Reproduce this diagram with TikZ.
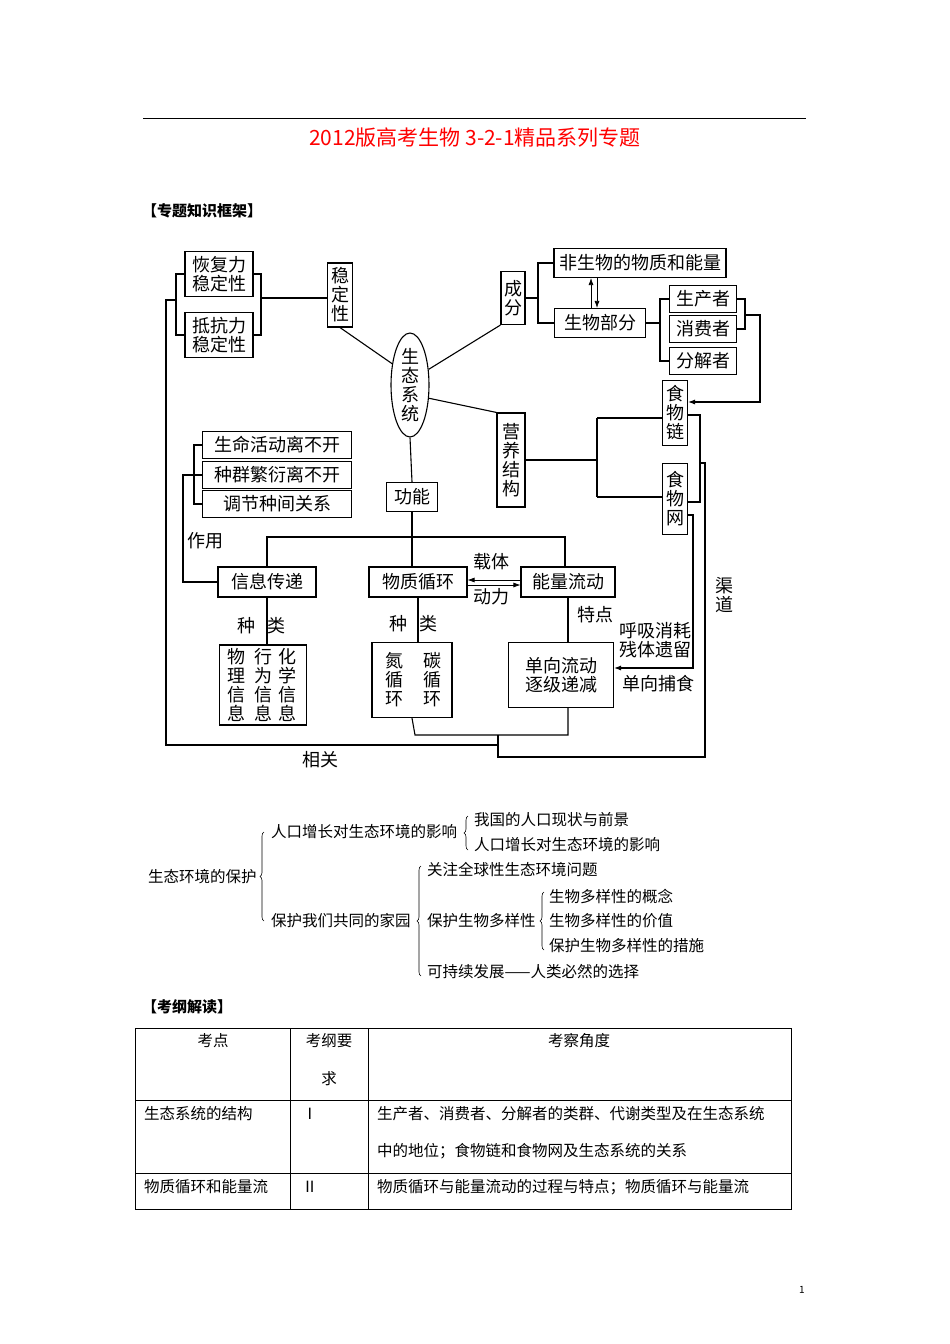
\documentclass[tikz,border=0pt]{standalone}
\usepackage{fontspec}
\setmainfont{Noto Sans CJK SC}
\usetikzlibrary{shapes.geometric,arrows.meta,decorations.pathreplacing}
\begin{document}
\begin{tikzpicture}[x=1pt,y=-1pt,
  box/.style={draw,line width=1.1pt,inner sep=0pt,align=center,font=\fontsize{18}{19}\selectfont},
  ln/.style={line width=1.1pt},
  lab/.style={inner sep=0pt,align=center,font=\fontsize{18}{19}\selectfont},
  sm/.style={inner sep=0pt,anchor=west,font=\fontsize{15.5}{17}\selectfont},
  br/.style={decorate,decoration={brace,amplitude=4pt},line width=0.6pt},
  arr/.style={ln,-{Latex[length=7pt,width=5pt]}}]
\useasboundingbox[fill=white] (0,0) rectangle (950,1344);
\draw[line width=0.6pt] (143,118) -- (806,118);
\node[inner sep=0pt,text=red,font=\fontsize{21}{22}\selectfont] (title) at (475,138) {2012版高考生物 3-2-1精品系列专题};
\node[sm,font=\fontsize{15}{16}\selectfont\bfseries] (h1) at (142,211) {【专题知识框架】};
% boxes
\node[box,minimum width=68,minimum height=45] (hf) at (219,274) {恢复力\\稳定性};
\node[box,minimum width=68,minimum height=45] (dk) at (219,335) {抵抗力\\稳定性};
\node[box,minimum width=25,minimum height=64] (wd) at (340,295) {稳\\定\\性};
\node[box,ellipse,minimum width=38,minimum height=92] (eco) at (410,385) {生\\态\\系\\统};
\node[box,minimum width=24,minimum height=53] (cf) at (513,298) {成\\分};
\node[box,minimum width=172,minimum height=29] (fsw) at (640,263) {非生物的物质和能量};
\node[box,minimum width=91,minimum height=29] (swbf) at (600,323) {生物部分};
\node[box,minimum width=67,minimum height=27] (scz) at (703,299) {生产者};
\node[box,minimum width=67,minimum height=27] (xfz) at (703,329) {消费者};
\node[box,minimum width=67,minimum height=27] (fjz) at (703,361) {分解者};
\node[box,minimum width=25,minimum height=65] (swl) at (675,413) {食\\物\\链};
\node[box,minimum width=25,minimum height=71] (swn) at (675,499) {食\\物\\网};
\node[box,minimum width=28,minimum height=94] (yyjg) at (511,460) {营\\养\\结\\构};
\node[box,minimum width=149,minimum height=27] (smhd) at (277,445) {生命活动离不开};
\node[box,minimum width=149,minimum height=27] (zqfy) at (277,475) {种群繁衍离不开};
\node[box,minimum width=149,minimum height=27] (tjzj) at (277,504) {调节种间关系};
\node[box,minimum width=51,minimum height=29] (gn) at (412,497) {功能};
\node[box,minimum width=98,minimum height=30] (xxcd) at (267,582) {信息传递};
\node[box,minimum width=98,minimum height=30] (wzxh) at (418,582) {物质循环};
\node[box,minimum width=94,minimum height=30] (nlld) at (568,582) {能量流动};
\node[box,minimum width=87,minimum height=80] (wlxx) at (263,685) {};
\node[lab] (t1) at (236,685) {物\\理\\信\\息};
\node[lab] (t2) at (263,685) {行\\为\\信\\息};
\node[lab] (t3) at (287,685) {化\\学\\信\\息};
\node[box,minimum width=80,minimum height=75] (dxh) at (412,680) {};
\node[lab] (t4) at (394,680) {氮\\循\\环};
\node[lab] (t5) at (432,680) {碳\\循\\环};
\node[box,minimum width=105,minimum height=65] (dxld) at (561,675) {单向流动\\逐级递减};
% labels
\node[lab] (l1) at (205,541) {作用};
\node[lab] (l2) at (246,626) {种};
\node[lab] (l3) at (276,626) {类};
\node[lab] (l4) at (398,624) {种};
\node[lab] (l5) at (428,624) {类};
\node[lab] (l6) at (491,562) {载体};
\node[lab] (l7) at (491,597) {动力};
\node[lab] (l8) at (595,615) {特点};
\node[lab] (l9) at (655,640) {呼吸消耗\\残体遗留};
\node[lab] (l10) at (658,684) {单向捕食};
\node[lab] (l11) at (320,760) {相关};
\node[lab] (l12) at (724,595) {渠\\道};
% connectors
\draw[ln] (hf.west) -- (176,274) -- (176,335) -- (dk.west);
\draw[ln] (176,300) -- (166,300) -- (166,745) -- (498,745);
\draw[ln] (hf.east) -- (261,274) -- (261,335) -- (dk.east);
\draw[ln] (261,298) -- (wd.west |- 0,298);
\draw[ln] (wd.south) -- (eco.130);
\draw[ln] (eco.40) -- (cf.south west);
\draw[ln] (cf.east) -- (538,298);
\draw[ln] (fsw.west) -- (538,263) -- (538,323) -- (swbf.west);
\draw[arr,line width=0.7pt] (swbf.north -| 591,0) -- (fsw.south -| 591,0);
\draw[arr,line width=0.7pt] (fsw.south -| 597,0) -- (swbf.north -| 597,0);
\draw[ln] (swbf.east) -- (660,323);
\draw[ln] (scz.west) -- (660,299) -- (660,361) -- (fjz.west);
\draw[ln] (scz.east) -- (745,299) -- (745,329) -- (xfz.east);
\coordinate (c1) at (688,402);
\draw[arr] (745,315) -- (760,315) -- (760,402) -- (c1);
\draw[ln] (eco.-35) -- (yyjg.north west);
\draw[ln] (yyjg.east) -- (597,460);
\draw[ln] (597,418) -- (597,497);
\draw[ln] (597,418) -- (swl.west |- 0,418);
\draw[ln] (597,497) -- (swn.west |- 0,497);
\draw[ln] (swl.east |- 0,415) -- (700,415) -- (700,502) -- (swn.east |- 0,502);
\draw[ln] (700,463) -- (705,463) -- (705,757) -- (498,757) -- (498,735);
\coordinate (c2) at (614,668);
\draw[arr] (swn.east |- 0,515) -- (693,515) -- (693,668) -- (c2);
\draw[ln] (dxh.south) -- (415,735) -- (568,735) -- (568,708);
\draw[ln] (eco.south) -- (gn.north);
\draw[ln] (gn.south) -- (gn.south |- wzxh.north);
\draw[ln] (xxcd.north) -- (267,537) -- (565,537) -- (565,567);
\draw[arr,line width=0.7pt] ([yshift=-3pt]wzxh.east) -- ([yshift=-3pt]nlld.west);
\draw[arr,line width=0.7pt] ([yshift=2pt]nlld.west) -- ([yshift=2pt]wzxh.east);
\draw[ln] (xxcd.west) -- (183,582) -- (183,475) -- (194,475);
\draw[ln] (smhd.west) -- (194,445) -- (194,504) -- (tjzj.west);
\draw[ln] (zqfy.west) -- (194,475);
\draw[ln] (xxcd.south) -- (wlxx.north -| xxcd.south);
\draw[ln] (wzxh.south) -- (wzxh.south |- dxh.north);
\draw[ln] (nlld.south) -- (nlld.south |- dxld.north);
% lower tree
\node[sm] (p0) at (148,877) {生态环境的保护};
\draw[br] (264,921) -- (264,832);
\node[sm] (p1) at (271,832) {人口增长对生态环境的影响};
\draw[br] (468,850) -- (468,816);
\node[sm] (p11) at (474,820) {我国的人口现状与前景};
\node[sm] (p12) at (474,845) {人口增长对生态环境的影响};
\node[sm] (p2) at (271,921) {保护我们共同的家园};
\draw[br] (421,976) -- (421,866);
\node[sm] (p21) at (427,870) {关注全球性生态环境问题};
\node[sm] (p22) at (427,921) {保护生物多样性};
\draw[br] (544,950) -- (544,892);
\node[sm] (p221) at (549,896) {生物多样性的概念};
\node[sm] (p222) at (549,921) {生物多样性的价值};
\node[sm] (p223) at (549,946) {保护生物多样性的措施};
\node[sm] (p23) at (427,972) {可持续发展——人类必然的选择};
\node[sm,font=\fontsize{15}{16}\selectfont\bfseries] (h2) at (142,1007) {【考纲解读】};
% table
\draw[line width=0.6pt] (135,1028) rectangle (791,1209);
\draw[line width=0.6pt] (135,1100) -- (791,1100) (135,1173) -- (791,1173);
\draw[line width=0.6pt] (290,1028) -- (290,1209) (368,1028) -- (368,1209);
\node[sm,anchor=center] (k1) at (213,1041) {考点};
\node[sm,anchor=center] (k2) at (329,1041) {考纲要};
\node[sm,anchor=center] (k3) at (329,1079) {求};
\node[sm,anchor=center] (k4) at (579,1041) {考察角度};
\node[sm] (r1) at (144,1114) {生态系统的结构};
\node[sm] (r2) at (302,1114) {Ⅰ};
\node[sm] (r3) at (377,1114) {生产者、消费者、分解者的类群、代谢类型及在生态系统};
\node[sm] (r4) at (377,1151) {中的地位；食物链和食物网及生态系统的关系};
\node[sm] (r5) at (144,1187) {物质循环和能量流};
\node[sm] (r6) at (302,1187) {Ⅱ};
\node[sm] (r7) at (377,1187) {物质循环与能量流动的过程与特点；物质循环与能量流};
\node[inner sep=0pt,font=\fontsize{10}{12}\selectfont] (pg) at (802,1290) {1};
\end{tikzpicture}
\end{document}
